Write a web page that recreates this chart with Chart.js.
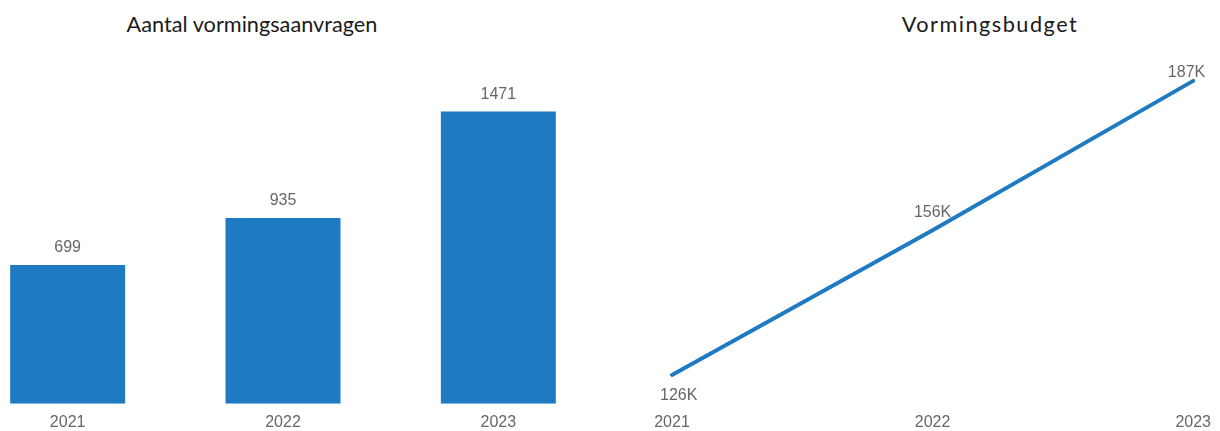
<!DOCTYPE html>
<html>
<head>
<meta charset="utf-8">
<script src="https://cdn.jsdelivr.net/npm/chart.js@4.4.0/dist/chart.umd.min.js"></script>
<style>
    html, body { margin: 0; padding: 0; background: #fff; overflow: hidden; }
    body { width: 1220px; height: 431px; position: relative; }
    .title {
        position: absolute;
        top: 11px;
        font-family: Lato, "Open Sans", sans-serif;
        font-size: 21.7px;
        line-height: 1.2;
        color: #1a1a1a;
        white-space: nowrap;
        transform: translateX(-50%);
    }
    #aanvragenWrap { position: absolute; left: -40px; top: 0; width: 646px; height: 441px; }
    #budgetWrap { position: absolute; left: 620px; top: 0; width: 600px; height: 441px; }
</style>
</head>
<body>
<div class="title" style="left:252px">Aantal vormingsaanvragen</div>
<div class="title" style="left:990px; letter-spacing:1.5px">Vormingsbudget</div>
<div id="aanvragenWrap"><canvas id="aanvragenChart"></canvas></div>
<div id="budgetWrap"><canvas id="budgetChart"></canvas></div>
<script>
// Jaren en waarden
const jaren = ['2021', '2022', '2023'];
const aanvragen = [699, 935, 1471];
const budget = [126000, 156000, 187000];

const blauw = '#1f7bc1';
const grijs = '#666666';
const labelFont = { family: '"Liberation Sans", Arial, sans-serif', size: 16 };

// Waardelabels boven/onder de punten tekenen
const valueLabels = {
    id: 'valueLabels',
    afterDatasetsDraw(chart, args, opts) {
        const { ctx, chartArea } = chart;
        const meta = chart.getDatasetMeta(0);
        const data = chart.data.datasets[0].data;
        ctx.save();
        ctx.font = labelFont.size + 'px ' + labelFont.family;
        ctx.fillStyle = grijs;
        ctx.textAlign = 'center';
        ctx.textBaseline = 'middle';
        meta.data.forEach((el, i) => {
            const text = opts.format(data[i]);
            const w = ctx.measureText(text).width;
            let x = el.x;
            let y = el.y + opts.dy[i];
            if (opts.pad !== undefined) {
                x = Math.max(x, chartArea.left - opts.pad + w / 2);
                x = Math.min(x, chartArea.right + opts.pad - w / 2);
                y = Math.max(y, chartArea.top + 9);
            }
            ctx.fillText(text, x, y);
        });
        ctx.restore();
    }
};

const xAs = {
    grid: { display: false, drawTicks: false },
    border: { display: false },
    ticks: { color: grijs, font: labelFont, padding: 9, maxRotation: 0 }
};

new Chart(document.getElementById('aanvragenChart'), {
    type: 'bar',
    data: {
        labels: jaren,
        datasets: [{
            data: aanvragen,
            backgroundColor: blauw,
            categoryPercentage: 1,
            barPercentage: 0.534
        }]
    },
    options: {
        responsive: true,
        maintainAspectRatio: false,
        animation: false,
        layout: { padding: { top: 86, left: 0, right: 0, bottom: 0 } },
        plugins: {
            legend: { display: false },
            tooltip: { enabled: false },
            valueLabels: { format: v => String(v), dy: [-17, -17, -17] }
        },
        scales: {
            x: xAs,
            y: { display: false, min: 0, max: 1600 }
        }
    },
    plugins: [valueLabels]
});

new Chart(document.getElementById('budgetChart'), {
    type: 'line',
    data: {
        labels: jaren,
        datasets: [{
            data: budget,
            borderColor: blauw,
            borderWidth: 4,
            borderCapStyle: 'round',
            borderJoinStyle: 'round',
            pointRadius: 0,
            fill: false,
            tension: 0
        }]
    },
    options: {
        responsive: true,
        maintainAspectRatio: false,
        animation: false,
        layout: { padding: { top: 64, left: 52, right: 25, bottom: 0 } },
        plugins: {
            legend: { display: false },
            tooltip: { enabled: false },
            valueLabels: { format: v => Math.round(v / 1000) + 'K', dy: [21, -18, -18], pad: 12 }
        },
        scales: {
            x: Object.assign({}, xAs, { offset: false }),
            y: { display: false, min: 120000, max: 190500 }
        }
    },
    plugins: [valueLabels]
});
</script>
</body>
</html>
